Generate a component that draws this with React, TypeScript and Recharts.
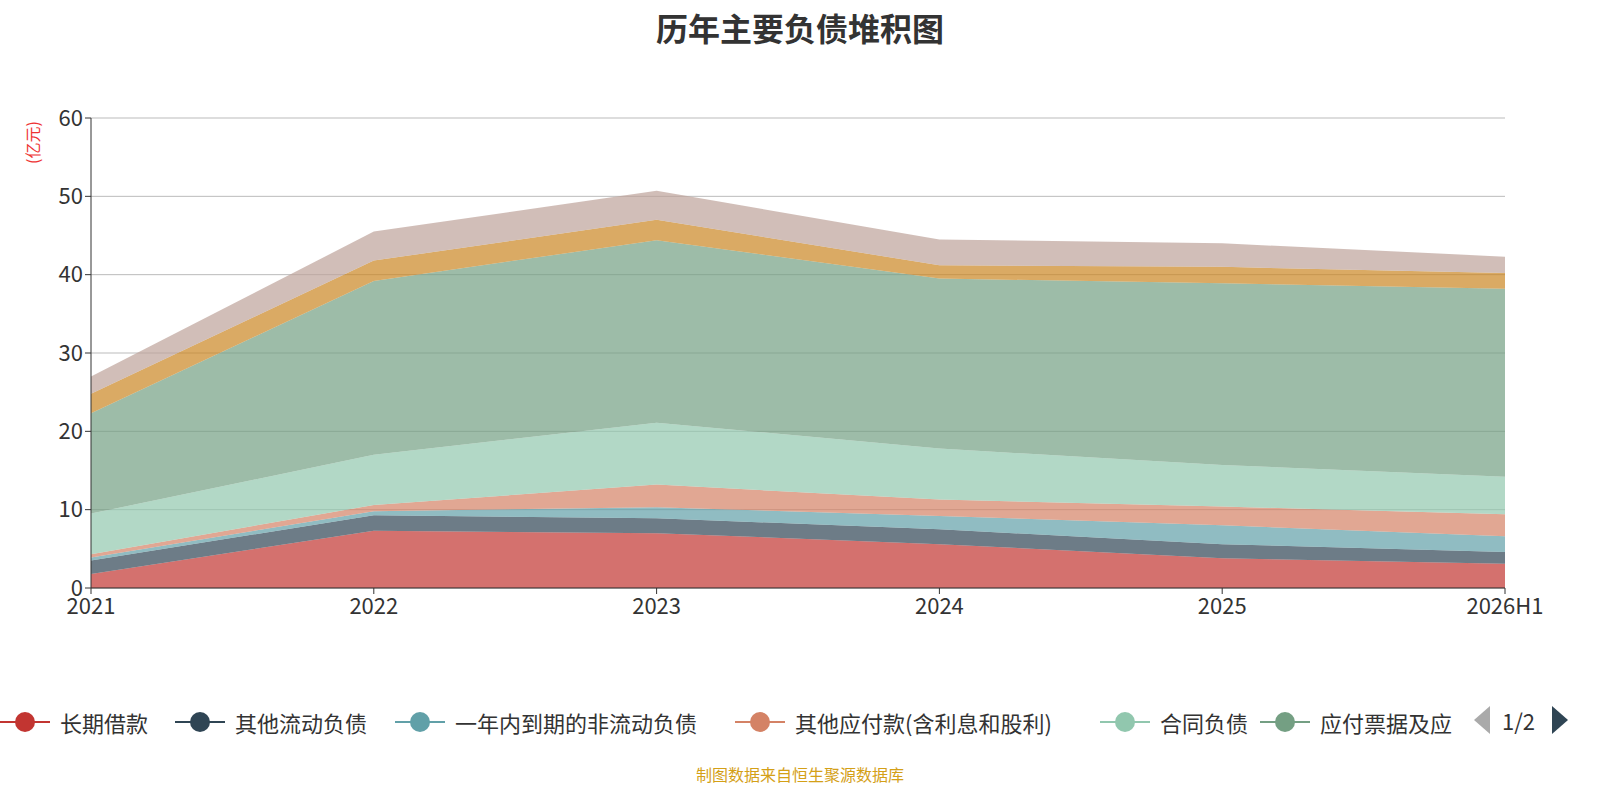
import { AreaChart, Area, XAxis, YAxis, CartesianGrid } from 'recharts'

const years = ['2021', '2022', '2023', '2024', '2025', '2026H1']
const seriesNames = ['长期借款', '其他流动负债', '一年内到期的非流动负债', '其他应付款(含利息和股利)', '合同负债', '应付票据及应付账款', '短期借款', '应付职工薪酬']
const colors = ['#c23531', '#2f4554', '#61a0a8', '#d48265', '#91c7ae', '#749f83', '#ca8622', '#bda29a']

const longLoan = [1.8, 7.3, 7.0, 5.6, 3.8, 3.1]
const otherCurrent = [1.7, 2.0, 1.9, 1.9, 1.8, 1.5]
const dueWithinYear = [0.4, 0.5, 1.4, 1.7, 2.4, 2.0]
const otherPayable = [0.4, 0.8, 2.9, 2.1, 2.4, 2.8]
const contractLiab = [5.2, 6.4, 7.9, 6.5, 5.3, 4.8]
const notesPayable = [12.8, 22.2, 23.3, 21.7, 23.2, 24.0]
const shortLoan = [2.5, 2.6, 2.6, 1.7, 2.1, 2.0]
const staffPay = [2.2, 3.7, 3.7, 3.3, 3.0, 2.1]

const values = [longLoan, otherCurrent, dueWithinYear, otherPayable, contractLiab, notesPayable, shortLoan, staffPay]
const data = years.map((y, i) => {
  const row: Record<string, string | number> = { year: y }
  values.forEach((v, k) => { row['s' + k] = v[i] })
  return row
})

const legendX = [0, 175, 395, 735, 1100, 1260]
const font = '"Microsoft YaHei", "Noto Sans CJK SC", sans-serif'

export default function App() {
  return (
    <div style={{ position: 'fixed', left: 0, top: 0, width: 1600, height: 800, background: '#fff', fontFamily: font }}>
      <div style={{ position: 'absolute', top: 4, width: 1600, textAlign: 'center', fontSize: 32, fontWeight: 'bold', color: '#333' }}>
        历年主要负债堆积图
      </div>
      <div style={{ position: 'absolute', left: 20, top: 120, transform: 'rotate(-90deg)', transformOrigin: 'left top', color: '#e33', fontSize: 16, whiteSpace: 'nowrap', translate: '0 44px' }}>
        (亿元)
      </div>
      <AreaChart width={1600} height={800} data={data} margin={{ top: 118, right: 95, left: 31, bottom: 182 }}>
        <CartesianGrid vertical={false} stroke="#bbb" />
        <XAxis dataKey="year" stroke="#333" tick={{ fill: '#333', fontSize: 22, dy: 2 }} tickLine={{ stroke: '#333' }} height={30} tickSize={6} />
        <YAxis domain={[0, 60]} ticks={[0, 10, 20, 30, 40, 50, 60]} stroke="#333" tick={{ fill: '#333', fontSize: 22 }} width={60} />
        {seriesNames.map((n, k) => (
          <Area key={n} dataKey={'s' + k} name={n} stackId="a" type="linear" stroke="none" fill={colors[k]} fillOpacity={0.7} isAnimationActive={false} />
        ))}
      </AreaChart>
      {seriesNames.slice(0, 6).map((n, k) => (
        <div key={n} style={{ position: 'absolute', left: legendX[k], top: 706, display: 'flex', alignItems: 'center', fontSize: 22, color: '#333', whiteSpace: 'nowrap' }}>
          <svg width={50} height={28}>
            <line x1={0} x2={50} y1={14} y2={14} stroke={colors[k]} strokeWidth={2} />
            <circle cx={25} cy={14} r={10} fill={colors[k]} />
          </svg>
          <span style={{ marginLeft: 10 }}>{k === 5 ? '应付票据及应' : n}</span>
        </div>
      ))}
      <svg style={{ position: 'absolute', left: 1472, top: 706 }} width={20} height={28}>
        <polygon points="18,0 18,28 2,14" fill="#aaa" />
      </svg>
      <div style={{ position: 'absolute', left: 1502, top: 704, fontSize: 22, color: '#333' }}>1/2</div>
      <svg style={{ position: 'absolute', left: 1550, top: 706 }} width={20} height={28}>
        <polygon points="2,0 2,28 18,14" fill="#2f4554" />
      </svg>
      <div style={{ position: 'absolute', top: 762, width: 1600, textAlign: 'center', fontSize: 16, color: '#d4a017' }}>
        制图数据来自恒生聚源数据库
      </div>
    </div>
  )
}
